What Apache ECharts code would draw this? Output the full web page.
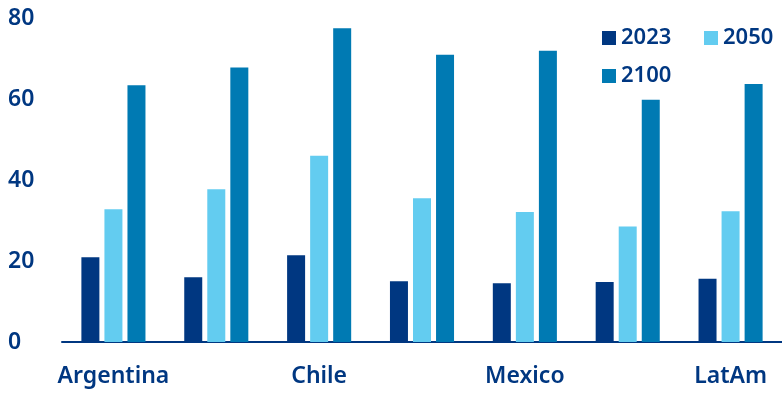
<!DOCTYPE html>
<html>
<head>
<meta charset="utf-8">
<script src="https://cdn.jsdelivr.net/npm/echarts@6/dist/echarts.min.js"></script>
<style>
  html, body { margin: 0; padding: 0; background: #fff; }
  #chart { width: 782px; height: 394px; }
</style>
</head>
<body>
<div id="chart"></div>
<script>
// data
const countries = ['Argentina', 'Brazil', 'Chile', 'Colombia', 'Mexico', 'Peru', 'LatAm'];
const y2023 = [20.9, 16.0, 21.4, 15.0, 14.5, 14.8, 15.6];
const y2050 = [32.8, 37.7, 46.0, 35.5, 32.1, 28.5, 32.3];
const y2100 = [63.4, 67.8, 77.5, 70.9, 71.9, 59.8, 63.7];
const yTicks = [0, 20, 40, 60, 80];

const navy = '#003781';
const font = '"Noto Sans", sans-serif';

const myChart = echarts.init(document.getElementById('chart'));

const bar = (name, data, color) => ({
    name: name,
    type: 'bar',
    data: data,
    barWidth: 18,
    barGap: '28%',
    itemStyle: { color: color }
});

// one legend per entry so they sit like the original (2 on top, 1 below)
const legendAt = (name, left, top) => ({
    data: [name],
    left: left,
    top: top,
    icon: 'rect',
    itemWidth: 14,
    itemHeight: 14,
    itemGap: 5,
    textStyle: { color: navy, fontSize: 22, fontWeight: 600, fontFamily: font }
});

myChart.setOption({
    animation: false,
    grid: { left: 62, right: -4, top: 18, bottom: 52 },
    legend: [
        legendAt('2023', 597, 22),
        legendAt('2050', 699, 22),
        legendAt('2100', 597, 60)
    ],
    xAxis: {
        type: 'category',
        data: countries,
        axisTick: { show: false },
        axisLine: { lineStyle: { color: navy, width: 2 } },
        axisLabel: {
            interval: 1,
            margin: 23,
            color: navy,
            fontSize: 23,
            fontWeight: 600,
            fontFamily: font
        }
    },
    yAxis: {
        type: 'value',
        min: yTicks[0],
        max: yTicks[yTicks.length - 1],
        interval: 20,
        splitLine: { show: false },
        axisLine: { show: false },
        axisTick: { show: false },
        axisLabel: {
            align: 'left',
            margin: 54,
            color: navy,
            fontSize: 23,
            fontWeight: 600,
            fontFamily: font
        }
    },
    series: [
        bar('2023', y2023, navy),
        bar('2050', y2050, '#63ccf0'),
        bar('2100', y2100, '#007ab3')
    ]
});
</script>
</body>
</html>
